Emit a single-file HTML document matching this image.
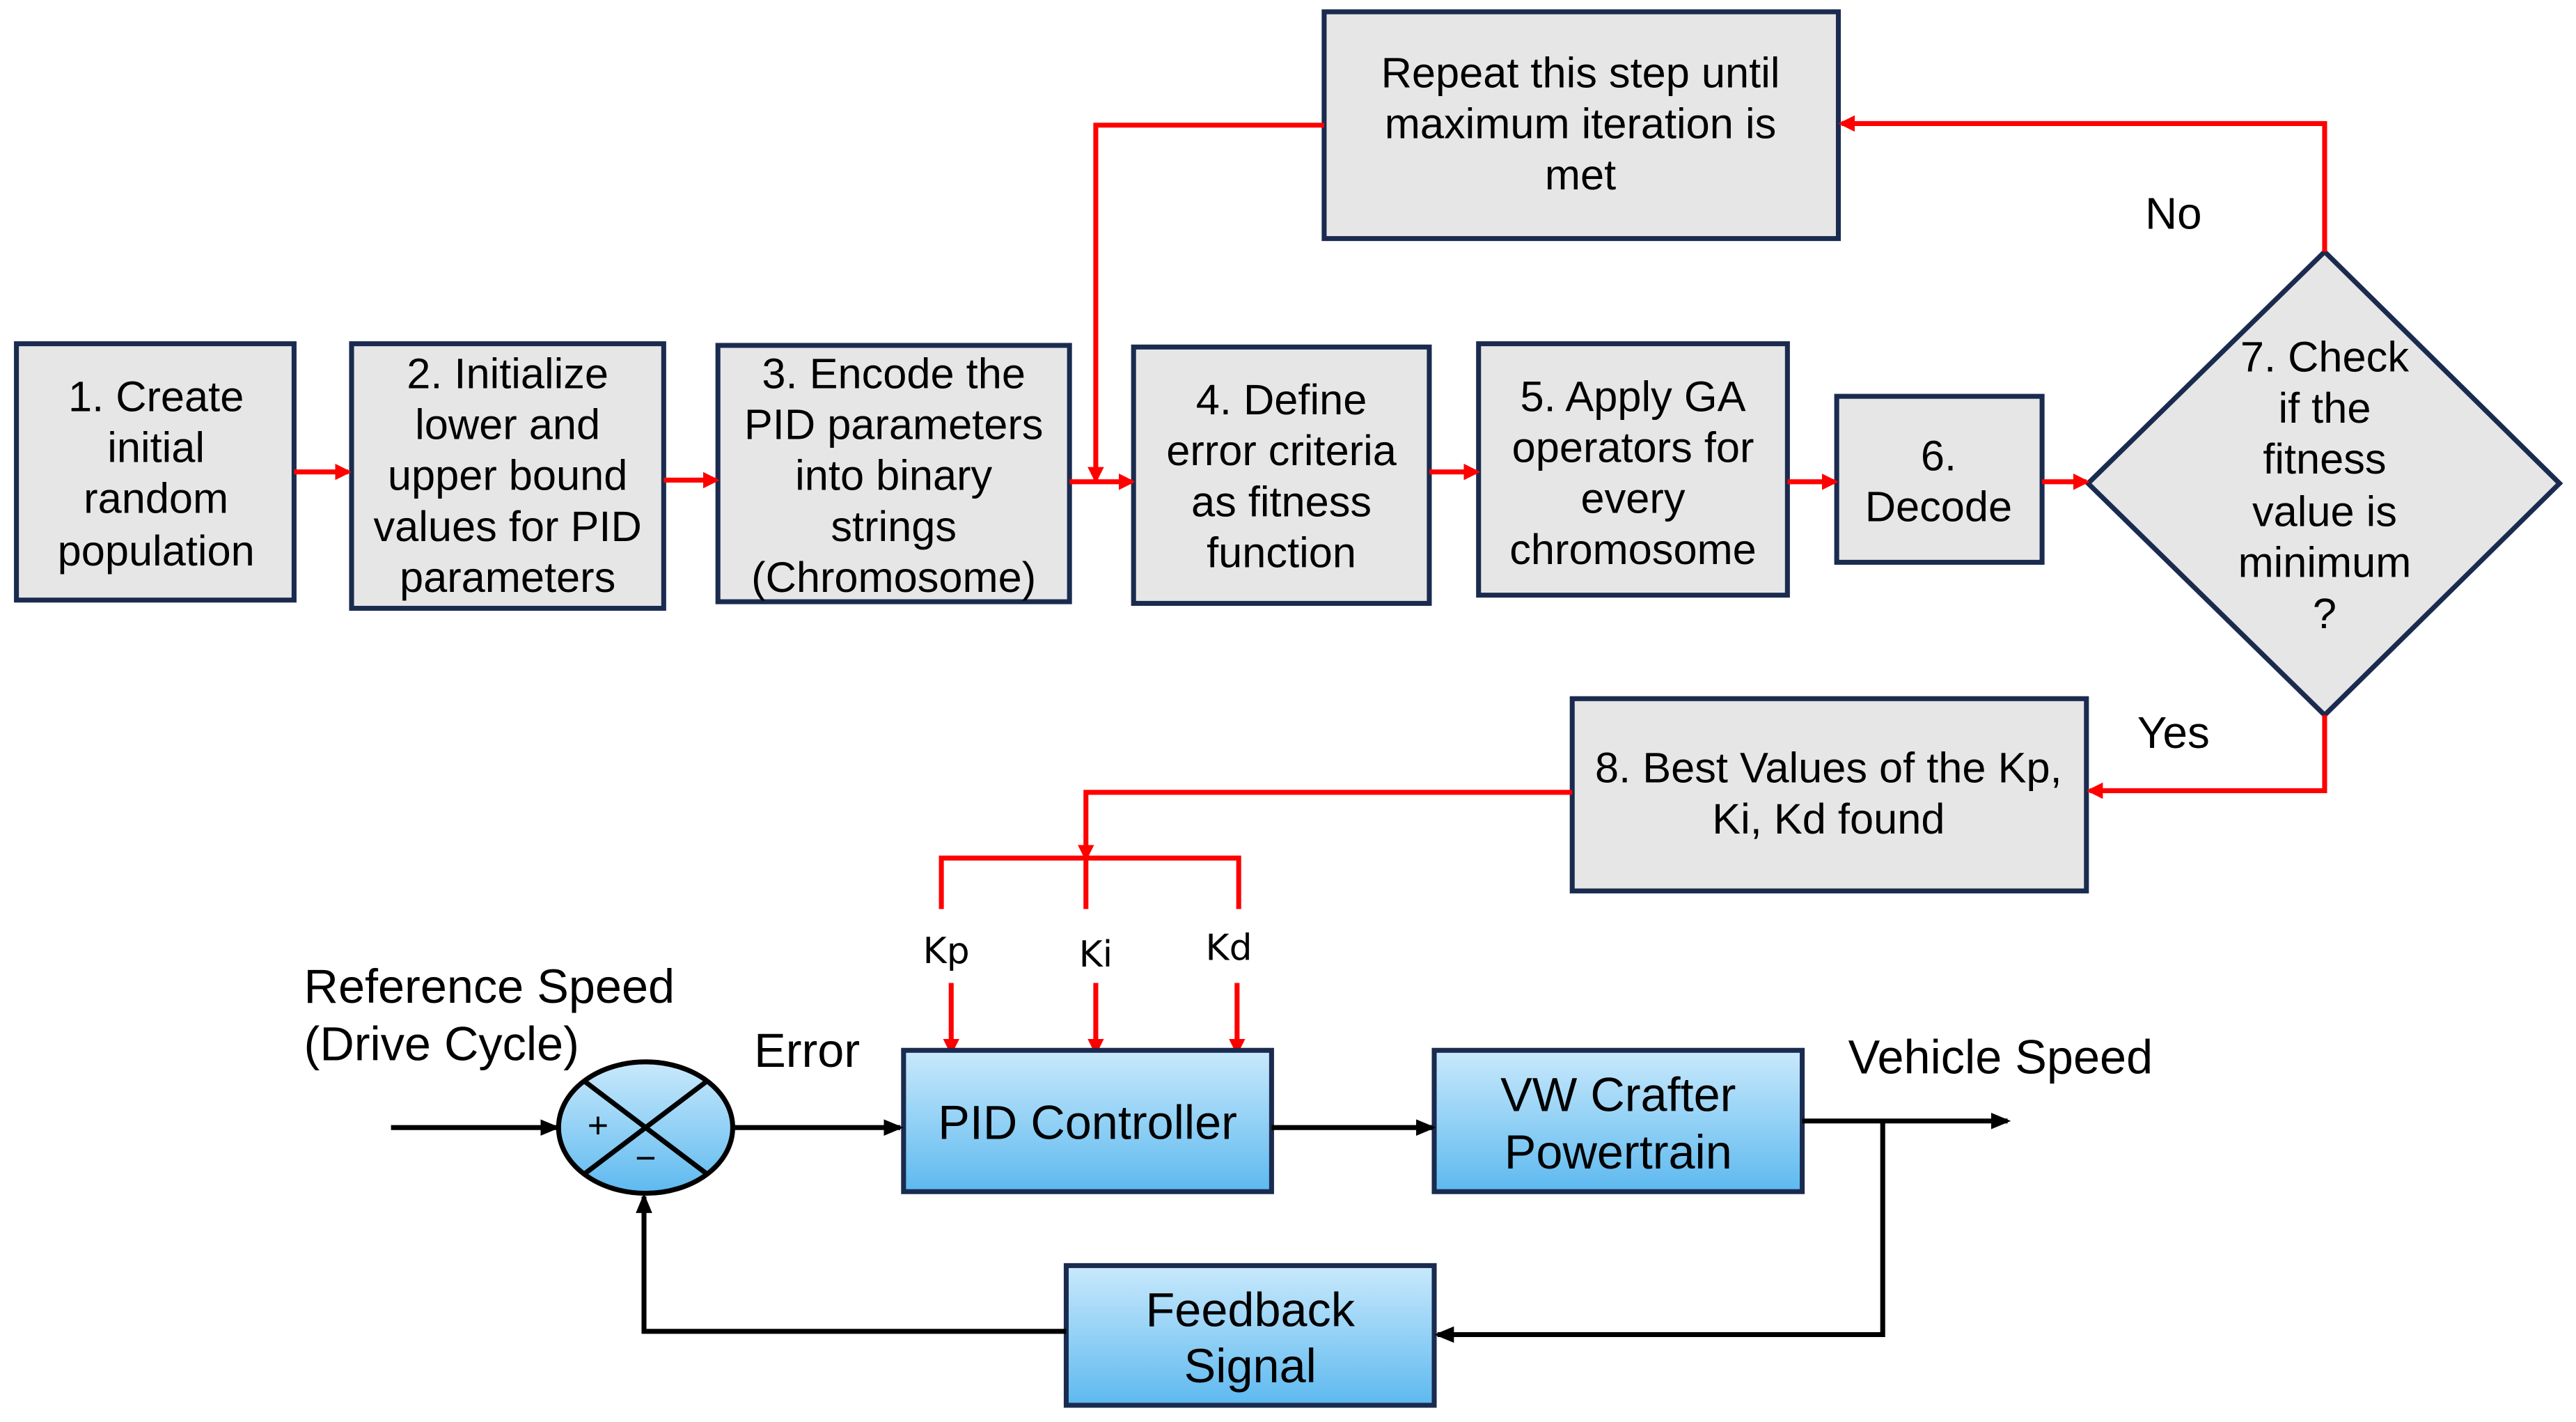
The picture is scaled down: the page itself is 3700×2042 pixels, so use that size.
<!DOCTYPE html>
<html><head><meta charset="utf-8"><style>html,body{margin:0;padding:0;background:#fff}svg{display:block}</style></head>
<body>
<svg width="3700" height="2042" viewBox="0 0 1568 865" xmlns="http://www.w3.org/2000/svg" font-family="Liberation Sans, Arial, sans-serif">
<defs>
<linearGradient id="bg" x1="0" y1="0" x2="0" y2="1"><stop offset="0" stop-color="#c9e9fc"/><stop offset="1" stop-color="#5db9ef"/></linearGradient>
<marker id="ra" markerWidth="10" markerHeight="10" refX="8" refY="5" orient="auto" markerUnits="userSpaceOnUse"><path d="M0,0 L10,5 L0,10 z" fill="#f00"/></marker>
<marker id="ka" markerWidth="12" markerHeight="10" refX="10" refY="5" orient="auto" markerUnits="userSpaceOnUse"><path d="M0,0 L12,5 L0,10 z" fill="#000"/></marker>
</defs>
<g fill="#e6e6e6" stroke="#1a2b4f" stroke-width="3">
<rect x="10" y="209" width="169" height="156"/>
<rect x="214" y="209" width="190" height="161"/>
<rect x="437" y="210" width="214" height="156"/>
<rect x="690" y="211" width="180" height="156"/>
<rect x="900" y="209" width="188" height="153"/>
<rect x="1118" y="241" width="125" height="101"/>
<polygon points="1415,153 1558,294 1415,435 1271,294"/>
<rect x="806" y="7" width="313" height="138"/>
<rect x="957" y="425" width="313" height="117"/>
</g>
<g fill="#000" font-size="26" text-anchor="middle">
<text x="95" y="250">1. Create</text><text x="95" y="281">initial</text><text x="95" y="312">random</text><text x="95" y="344">population</text>
<text x="309" y="236">2. Initialize</text><text x="309" y="267">lower and</text><text x="309" y="298">upper bound</text><text x="309" y="329">values for PID</text><text x="309" y="360">parameters</text>
<text x="544" y="236">3. Encode the</text><text x="544" y="267">PID parameters</text><text x="544" y="298">into binary</text><text x="544" y="329">strings</text><text x="544" y="360">(Chromosome)</text>
<text x="780" y="252">4. Define</text><text x="780" y="283">error criteria</text><text x="780" y="314">as fitness</text><text x="780" y="345">function</text>
<text x="994" y="250">5. Apply GA</text><text x="994" y="281">operators for</text><text x="994" y="312">every</text><text x="994" y="343">chromosome</text>
<text x="1180" y="286">6.</text><text x="1180" y="317">Decode</text>
<text x="1415" y="226">7. Check</text><text x="1415" y="257">if the</text><text x="1415" y="288">fitness</text><text x="1415" y="320">value is</text><text x="1415" y="351">minimum</text><text x="1415" y="382">?</text>
<text x="962" y="53">Repeat this step until</text><text x="962" y="84">maximum iteration is</text><text x="962" y="115">met</text>
<text x="1113" y="476">8. Best Values of the Kp,</text><text x="1113" y="507">Ki, Kd found</text>
<text x="1323" y="139" font-size="27">No</text><text x="1323" y="455" font-size="27">Yes</text>
</g>
<g stroke="#f00" stroke-width="3" fill="none" marker-end="url(#ra)">
<line x1="179" y1="287" x2="212" y2="287"/>
<line x1="404" y1="292" x2="436" y2="292"/>
<line x1="651" y1="293" x2="689" y2="293"/>
<line x1="870" y1="287" x2="899" y2="287"/>
<line x1="1088" y1="293" x2="1117" y2="293"/>
<line x1="1243" y1="293" x2="1270" y2="293"/>
<polyline points="1415,153 1415,75 1121,75"/>
<polyline points="806,76 667,76 667,292"/>
<polyline points="1415,435 1415,481 1272,481"/>
<polyline points="957,482 661,482 661,522"/>
<line x1="579" y1="598" x2="579" y2="640"/>
<line x1="667" y1="598" x2="667" y2="640"/>
<line x1="753" y1="598" x2="753" y2="640"/>
</g>
<polyline points="573,553 573,522 754,522 754,553" stroke="#f00" stroke-width="3" fill="none"/>
<line x1="661" y1="522" x2="661" y2="553" stroke="#f00" stroke-width="3"/>
<g font-size="22" text-anchor="middle" font-family="DejaVu Sans, sans-serif"><text x="576" y="586">Kp</text><text x="667" y="588">Ki</text><text x="748" y="584">Kd</text></g>
<g fill="url(#bg)" stroke="#1a2b4f" stroke-width="3">
<rect x="550" y="639" width="224" height="86"/>
<rect x="873" y="639" width="224" height="86"/>
<rect x="649" y="770" width="224" height="85"/>
</g>
<ellipse cx="393" cy="686" rx="53" ry="40" fill="url(#bg)" stroke="#000" stroke-width="3"/>
<line x1="356" y1="658" x2="430" y2="714" stroke="#000" stroke-width="3"/>
<line x1="430" y1="658" x2="356" y2="714" stroke="#000" stroke-width="3"/>
<g font-size="29" text-anchor="middle">
<text x="662" y="693">PID Controller</text>
<text x="985" y="676">VW Crafter</text><text x="985" y="711">Powertrain</text>
<text x="761" y="807">Feedback</text><text x="761" y="841">Signal</text>
<text x="364" y="692" font-size="22">+</text><text x="393" y="712" font-size="22">−</text>
</g>
<g font-size="29"><text x="185" y="610">Reference Speed</text><text x="185" y="645">(Drive Cycle)</text><text x="459" y="649">Error</text><text x="1125" y="653">Vehicle Speed</text></g>
<g stroke="#000" stroke-width="3" fill="none" marker-end="url(#ka)">
<line x1="238" y1="686" x2="339" y2="686"/>
<line x1="447" y1="686" x2="548" y2="686"/>
<line x1="774" y1="686" x2="872" y2="686"/>
<line x1="1097" y1="682" x2="1222" y2="682"/>
<polyline points="1146,682 1146,812 875,812"/>
<polyline points="649,810 392,810 392,728"/>
</g>
</svg>
</body></html>
